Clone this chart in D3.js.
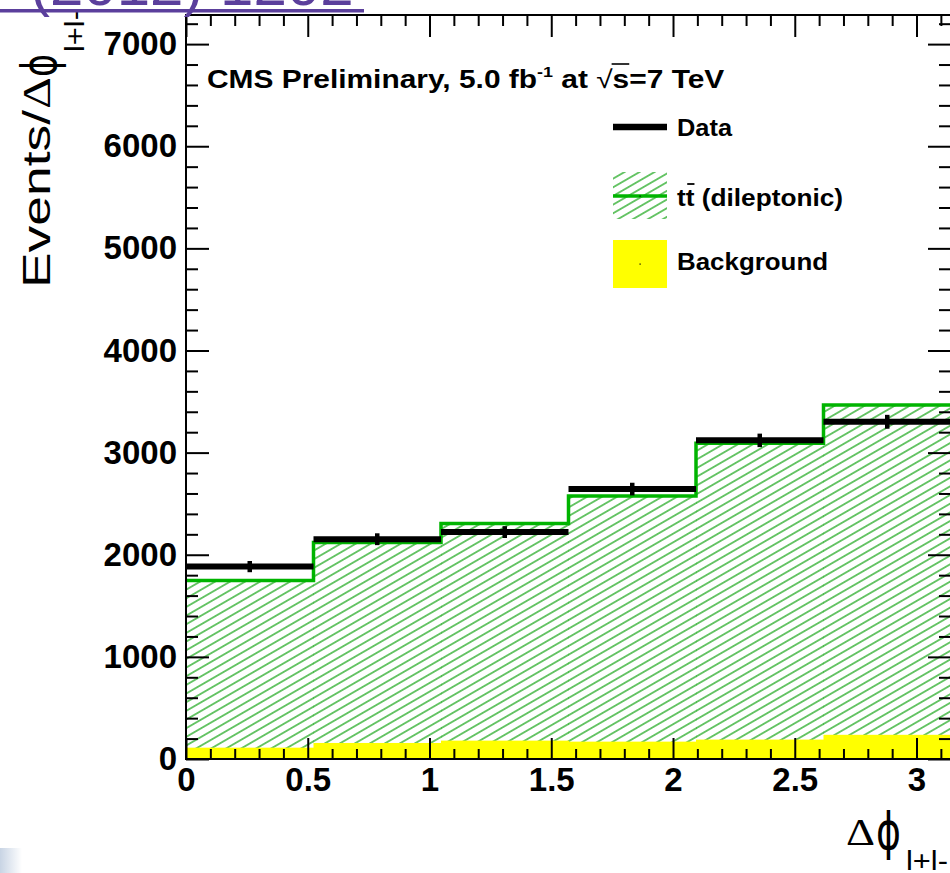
<!DOCTYPE html>
<html><head><meta charset="utf-8">
<script src="https://cdn.jsdelivr.net/npm/d3@7"></script>
<style>html,body{margin:0;padding:0;background:#fff;overflow:hidden}</style>
</head><body>
<svg id="c" width="950" height="873"></svg>
<script>
// ---- data ----
const binEdges   = [0, 0.5236, 1.0472, 1.5708, 2.0944, 2.618, 3.1416];
const dataVals   = [1884, 2152, 2222, 2643, 3120, 3302];
const dataErr    = [55, 58, 58, 62, 66, 68];
const ttbarStack = [1749, 2121, 2307, 2575, 3091, 3466];
const bkgVals    = [111, 157, 180, 170, 190, 237];
const xMajorTicks = [0, 0.5, 1, 1.5, 2, 2.5, 3];
const xTickLabels = ["0", "0.5", "1", "1.5", "2", "2.5", "3"];
const yMajorTicks = [0, 1000, 2000, 3000, 4000, 5000, 6000, 7000];
const yTickLabels = ["0", "1000", "2000", "3000", "4000", "5000", "6000", "7000"];
const legendLabels = ["Data", "tt (dileptonic)", "Background"];

const svg = d3.select("#c");
const W = 950, H = 873;
svg.append("rect").attr("width", W).attr("height", H).attr("fill", "#fff");

const x = d3.scaleLinear().domain([0, 3.1416]).range([186, 951]);
const y = d3.scaleLinear().domain([0, 7285]).range([759, 15]);

const defs = svg.append("defs");
const pat = defs.append("pattern").attr("id", "hatch")
  .attr("patternUnits", "userSpaceOnUse").attr("width", 20).attr("height", 7.5)
  .attr("patternTransform", "rotate(-30)");
pat.append("line").attr("x1", 0).attr("x2", 20).attr("y1", 3.75).attr("y2", 3.75)
  .attr("stroke", "#1ea81e").attr("stroke-width", 1.3);
const grad = defs.append("linearGradient").attr("id", "bl").attr("x1", 0).attr("x2", 1).attr("y1", 0).attr("y2", 0);
grad.append("stop").attr("offset", 0).attr("stop-color", "#c8d4e4");
grad.append("stop").attr("offset", 1).attr("stop-color", "#ffffff");

const bins = d3.range(dataVals.length);

// hatched ttbar stack
svg.append("g").selectAll("rect").data(bins).join("rect")
  .attr("x", i => x(binEdges[i])).attr("width", i => x(binEdges[i+1]) - x(binEdges[i]) + 0.5)
  .attr("y", i => y(ttbarStack[i])).attr("height", i => y(0) - y(ttbarStack[i]))
  .attr("fill", "url(#hatch)");

// background (yellow)
svg.append("g").selectAll("rect").data(bins).join("rect")
  .attr("x", i => x(binEdges[i])).attr("width", i => x(binEdges[i+1]) - x(binEdges[i]) + 0.5)
  .attr("y", i => y(bkgVals[i])).attr("height", i => y(0) - y(bkgVals[i]))
  .attr("fill", "#ffff00");

// green outline
let p = d3.path();
p.moveTo(x(binEdges[0]) + 1, y(ttbarStack[0]));
bins.forEach(i => { p.lineTo(x(binEdges[i]), y(ttbarStack[i])); p.lineTo(x(binEdges[i+1]), y(ttbarStack[i])); });
svg.append("path").attr("d", p.toString()).attr("fill", "none")
  .attr("stroke", "#00b400").attr("stroke-width", 3.5);

// data
svg.append("g").selectAll("line").data(bins).join("line")
  .attr("x1", i => x(binEdges[i])).attr("x2", i => x(binEdges[i+1]))
  .attr("y1", i => y(dataVals[i])).attr("y2", i => y(dataVals[i]))
  .attr("stroke", "#000").attr("stroke-width", 6);
svg.append("g").selectAll("line").data(bins).join("line")
  .attr("x1", i => x((binEdges[i]+binEdges[i+1])/2)).attr("x2", i => x((binEdges[i]+binEdges[i+1])/2))
  .attr("y1", i => y(dataVals[i]+dataErr[i])).attr("y2", i => y(dataVals[i]-dataErr[i]))
  .attr("stroke", "#000").attr("stroke-width", 4.5);

// axes
const xMinor = d3.range(0, 3.15, 0.1).filter(v => Math.abs(v*2 - Math.round(v*2)) > 1e-6);
const yMinor = d3.range(0, 7300, 200).filter(v => v % 1000 !== 0);
function styleAxis(g) {
  g.select(".domain").remove();
  g.selectAll(".tick line").attr("stroke", "#000").attr("stroke-width", 2);
  g.selectAll("text").attr("font-family", "Liberation Sans, Arial, sans-serif")
    .attr("font-weight", "bold").attr("font-size", 33).attr("fill", "#000");
}
svg.append("g").attr("transform", `translate(0,${y(0)})`)
  .call(d3.axisBottom(x).tickValues(xMajorTicks).tickSize(-21).tickPadding(9)
    .tickFormat((d, i) => xTickLabels[i])).call(styleAxis);
svg.append("g").attr("transform", `translate(0,${y(0)})`)
  .call(d3.axisBottom(x).tickValues(xMinor).tickSize(-10).tickFormat("")).call(styleAxis);
svg.append("g").attr("transform", `translate(0,${y.range()[1]})`)
  .call(d3.axisTop(x).tickValues(xMajorTicks).tickSize(-22).tickFormat("")).call(styleAxis);
svg.append("g").attr("transform", `translate(0,${y.range()[1]})`)
  .call(d3.axisTop(x).tickValues(xMinor).tickSize(-11).tickFormat("")).call(styleAxis);
svg.append("g").attr("transform", `translate(${x(0)},0)`)
  .call(d3.axisLeft(y).tickValues(yMajorTicks).tickSize(-23).tickPadding(9)
    .tickFormat((d, i) => yTickLabels[i])).call(styleAxis);
svg.append("g").attr("transform", `translate(${x(0)},0)`)
  .call(d3.axisLeft(y).tickValues(yMinor).tickSize(-12).tickFormat("")).call(styleAxis);
svg.append("g").attr("transform", `translate(${x.range()[1]},0)`)
  .call(d3.axisRight(y).tickValues(yMajorTicks).tickSize(-23).tickFormat("")).call(styleAxis);
svg.append("g").attr("transform", `translate(${x.range()[1]},0)`)
  .call(d3.axisRight(y).tickValues(yMinor).tickSize(-12).tickFormat("")).call(styleAxis);

// frame
svg.append("rect").attr("x", x(0)).attr("y", y.range()[1])
  .attr("width", x.range()[1] - x(0)).attr("height", y(0) - y.range()[1])
  .attr("fill", "none").attr("stroke", "#000").attr("stroke-width", 2);

const SANS = "Liberation Sans, Arial, Helvetica, sans-serif";
const SERIF = "Liberation Serif, Times New Roman, serif";
const PHI = "DejaVu Sans, sans-serif";

// CMS label
const cms = svg.append("text").attr("x", 207).attr("y", 88)
  .attr("font-family", SANS).attr("font-weight", "bold").attr("font-size", 25);
cms.append("tspan").text("CMS Preliminary, 5.0 fb");
cms.append("tspan").attr("font-size", 15).attr("dy", -11).text("-1");
cms.append("tspan").attr("dy", 11).text(" at ");
cms.append("tspan").attr("font-weight", "normal").text("\u221A");
cms.append("tspan").text("s");
cms.append("tspan").text("=7 TeV");
{
  const bb = cms.node().getBBox();
  const sx = (725 - 207) / bb.width;
  cms.attr("transform", `translate(207,0) scale(${sx},1) translate(-207,0)`);
  const n = cms.node();
  const idx = n.textContent.indexOf("\u221A");
  const a = n.getStartPositionOfChar(idx + 1), b = n.getEndPositionOfChar(idx + 1);
  svg.append("line").attr("x1", 207 + (a.x - 207) * sx - 1).attr("x2", 207 + (b.x - 207) * sx)
    .attr("y1", 88 - 24).attr("y2", 88 - 24).attr("stroke", "#000").attr("stroke-width", 1.6);
}

// legend
const lg = svg.append("g");
lg.append("line").attr("x1", 613).attr("x2", 667).attr("y1", 127).attr("y2", 127)
  .attr("stroke", "#000").attr("stroke-width", 6.5);
lg.append("rect").attr("x", 613).attr("y", 172).attr("width", 54).attr("height", 47).attr("fill", "url(#hatch)");
lg.append("line").attr("x1", 613).attr("x2", 667).attr("y1", 196).attr("y2", 196)
  .attr("stroke", "#00b400").attr("stroke-width", 3.5);
lg.append("rect").attr("x", 639.5).attr("y", 195.5).attr("width", 1.2).attr("height", 1.2).attr("fill", "#000");
lg.append("rect").attr("x", 613).attr("y", 240).attr("width", 54).attr("height", 48).attr("fill", "#ffff00");
lg.append("rect").attr("x", 639.5).attr("y", 263.5).attr("width", 1.2).attr("height", 1.2).attr("fill", "#000");
const lgY = [136, 206, 270];
const lgW = [55, 166, 151];
legendLabels.forEach((t, i) => {
  const tx = lg.append("text").attr("x", 677).attr("y", lgY[i])
    .attr("font-family", SANS).attr("font-weight", "bold").attr("font-size", 24).attr("fill", "#000")
    .attr("textLength", lgW[i]).attr("lengthAdjust", "spacingAndGlyphs").text(t);
  if (i === 1) {
    const n = tx.node();
    const a = n.getStartPositionOfChar(1), b = n.getEndPositionOfChar(1);
    lg.append("line").attr("x1", a.x + 1.5).attr("x2", b.x).attr("y1", lgY[i] - 22).attr("y2", lgY[i] - 22)
      .attr("stroke", "#000").attr("stroke-width", 1.8);
  }
});

// y title
const yt = svg.append("g").attr("transform", "translate(50,288) rotate(-90)");
yt.append("text").attr("x", 0).attr("y", 0).attr("font-family", SANS).attr("font-size", 39)
  .attr("textLength", 178).attr("lengthAdjust", "spacingAndGlyphs").text("Events/");
yt.append("text").attr("x", 179).attr("y", 0).attr("font-family", SERIF).attr("font-size", 40)
  .attr("textLength", 32).attr("lengthAdjust", "spacingAndGlyphs").text("\u0394");
yt.append("text").attr("x", 211).attr("y", 6).attr("font-family", PHI).attr("font-size", 48)
  .attr("textLength", 23).attr("lengthAdjust", "spacingAndGlyphs").text("\u03D5");
yt.append("text").attr("x", 236).attr("y", 34).attr("font-family", SANS).attr("font-size", 28)
  .attr("textLength", 42).attr("lengthAdjust", "spacingAndGlyphs").text("l+l-");

// x title
const xt = svg.append("g");
xt.append("text").attr("x", 846).attr("y", 845).attr("font-family", SERIF).attr("font-size", 38)
  .attr("textLength", 29).attr("lengthAdjust", "spacingAndGlyphs").text("\u0394");
xt.append("text").attr("x", 876).attr("y", 849).attr("font-family", PHI).attr("font-size", 52)
  .attr("textLength", 25).attr("lengthAdjust", "spacingAndGlyphs").text("\u03D5");
xt.append("text").attr("x", 906).attr("y", 870).attr("font-family", SANS).attr("font-size", 28)
  .attr("textLength", 42).attr("lengthAdjust", "spacingAndGlyphs").text("l+l-");

// page artefacts: cut-off purple link above, grey corner below
svg.append("text").attr("x", 30).attr("y", 5).attr("font-family", SANS).attr("font-size", 60)
  .attr("fill", "#5b3f9c").text("(2012) 1202");
svg.append("rect").attr("x", 0).attr("y", 9).attr("width", 364).attr("height", 3.5).attr("fill", "#5b3f9c");
svg.append("rect").attr("x", 0).attr("y", 848).attr("width", 22).attr("height", 25).attr("fill", "url(#bl)");
</script>
</body></html>
